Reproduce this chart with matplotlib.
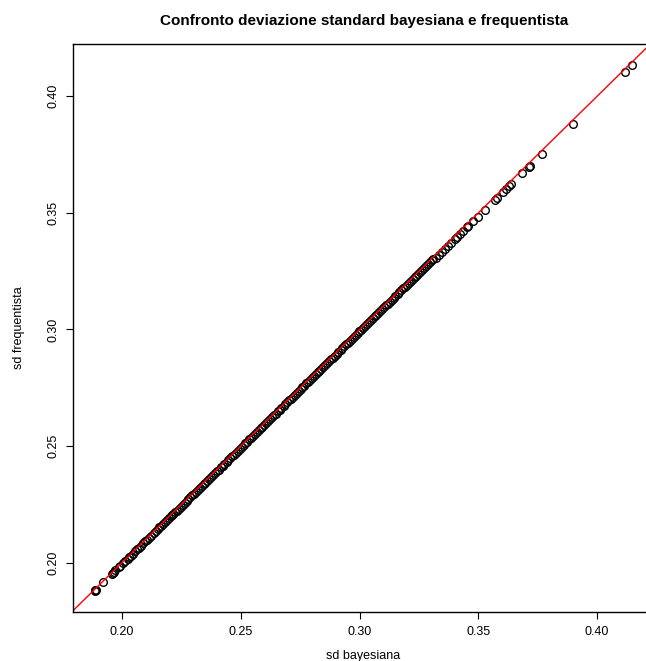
import matplotlib
matplotlib.use("Agg")
import matplotlib.pyplot as plt

plt.rcParams['font.family'] = ['Liberation Sans', 'DejaVu Sans']

# sparse points at the low end (sd bayesiana, sd frequentista)
low_bayes = [0.1884, 0.1887, 0.1890, 0.1921, 0.1958, 0.1962, 0.1966, 0.1972, 0.1985, 0.1993,
             0.2004, 0.2012, 0.2023, 0.2031, 0.2036, 0.2044, 0.2055, 0.2063, 0.2070, 0.2078,
             0.2090, 0.2098, 0.2104, 0.2112, 0.2121, 0.2133, 0.2141, 0.2150, 0.2157, 0.2163,
             0.2172, 0.2181, 0.2188, 0.2196, 0.2204, 0.2210]
low_freq = [0.1878, 0.1881, 0.1884, 0.1915, 0.1952, 0.1956, 0.1960, 0.1966, 0.1979, 0.1987,
            0.1998, 0.2006, 0.2017, 0.2025, 0.2030, 0.2038, 0.2049, 0.2057, 0.2064, 0.2072,
            0.2084, 0.2092, 0.2098, 0.2106, 0.2115, 0.2127, 0.2135, 0.2144, 0.2151, 0.2157,
            0.2166, 0.2175, 0.2182, 0.2190, 0.2198, 0.2204]

# dense body of the cloud
mid_bayes = [0.2216, 0.2224, 0.2231, 0.2239, 0.2248, 0.2255, 0.2263, 0.2272, 0.2279, 0.2287,
             0.2296, 0.2303, 0.2311, 0.2320, 0.2327, 0.2335, 0.2344, 0.2351, 0.2359, 0.2368,
             0.2375, 0.2383, 0.2392, 0.2399, 0.2407, 0.2416, 0.2423, 0.2431, 0.2440, 0.2447,
             0.2455, 0.2464, 0.2471, 0.2479, 0.2488, 0.2495, 0.2503, 0.2512, 0.2519, 0.2527,
             0.2536, 0.2543, 0.2551, 0.2560, 0.2567, 0.2575, 0.2584, 0.2591, 0.2599, 0.2608,
             0.2615, 0.2623, 0.2632, 0.2639, 0.2647, 0.2656, 0.2663, 0.2671, 0.2680, 0.2687,
             0.2695, 0.2704, 0.2711, 0.2719, 0.2728, 0.2735, 0.2743, 0.2752, 0.2759, 0.2767,
             0.2776, 0.2783, 0.2791, 0.2800, 0.2807, 0.2815, 0.2824, 0.2831, 0.2839, 0.2848,
             0.2855, 0.2863, 0.2872, 0.2879, 0.2887, 0.2896, 0.2903, 0.2911, 0.2920, 0.2927,
             0.2935, 0.2944, 0.2951, 0.2959, 0.2968, 0.2975, 0.2983, 0.2992, 0.2999, 0.3007,
             0.3016, 0.3023, 0.3031, 0.3040, 0.3047, 0.3055, 0.3064, 0.3071, 0.3079, 0.3088,
             0.3095, 0.3103, 0.3112, 0.3119, 0.3127, 0.3136, 0.3143, 0.3151, 0.3160, 0.3167,
             0.3175, 0.3184, 0.3191, 0.3199, 0.3208, 0.3215, 0.3223, 0.3232, 0.3239, 0.3247,
             0.3256, 0.3263, 0.3271, 0.3280, 0.3287, 0.3295, 0.3304, 0.3310]
mid_freq = [0.2208, 0.2216, 0.2223, 0.2231, 0.2240, 0.2247, 0.2255, 0.2264, 0.2271, 0.2279,
            0.2288, 0.2295, 0.2303, 0.2312, 0.2319, 0.2327, 0.2336, 0.2343, 0.2351, 0.2360,
            0.2367, 0.2375, 0.2384, 0.2391, 0.2399, 0.2408, 0.2415, 0.2423, 0.2432, 0.2439,
            0.2447, 0.2456, 0.2463, 0.2471, 0.2480, 0.2487, 0.2495, 0.2504, 0.2511, 0.2519,
            0.2528, 0.2535, 0.2543, 0.2552, 0.2559, 0.2567, 0.2576, 0.2583, 0.2591, 0.2600,
            0.2607, 0.2615, 0.2624, 0.2631, 0.2639, 0.2648, 0.2655, 0.2663, 0.2672, 0.2679,
            0.2687, 0.2696, 0.2703, 0.2711, 0.2720, 0.2727, 0.2735, 0.2744, 0.2751, 0.2759,
            0.2768, 0.2775, 0.2783, 0.2792, 0.2799, 0.2807, 0.2816, 0.2823, 0.2831, 0.2840,
            0.2847, 0.2855, 0.2864, 0.2871, 0.2879, 0.2888, 0.2895, 0.2903, 0.2912, 0.2919,
            0.2927, 0.2936, 0.2943, 0.2951, 0.2960, 0.2967, 0.2975, 0.2984, 0.2991, 0.2999,
            0.3008, 0.3015, 0.3023, 0.3032, 0.3039, 0.3047, 0.3056, 0.3063, 0.3071, 0.3080,
            0.3087, 0.3095, 0.3104, 0.3111, 0.3119, 0.3128, 0.3135, 0.3143, 0.3152, 0.3159,
            0.3167, 0.3176, 0.3183, 0.3191, 0.3200, 0.3207, 0.3215, 0.3224, 0.3231, 0.3239,
            0.3248, 0.3255, 0.3263, 0.3272, 0.3279, 0.3287, 0.3296, 0.3302]

# sparse points at the high end
high_bayes = [0.3322, 0.3335, 0.3346, 0.3360, 0.3373, 0.3384, 0.3402, 0.3411, 0.3423, 0.3437,
              0.3453, 0.3457, 0.3478, 0.3499, 0.3528, 0.3571, 0.3578, 0.3603, 0.3617, 0.3629,
              0.3638, 0.3684, 0.3713, 0.3718, 0.3767, 0.3898, 0.4118, 0.4149]
high_freq = [0.3307, 0.3320, 0.3331, 0.3345, 0.3358, 0.3369, 0.3387, 0.3396, 0.3408, 0.3422,
             0.3438, 0.3442, 0.3463, 0.3484, 0.3513, 0.3556, 0.3563, 0.3588, 0.3602, 0.3614,
             0.3623, 0.3669, 0.3698, 0.3703, 0.3752, 0.3883, 0.4103, 0.4134]

ticks = [0.20, 0.25, 0.30, 0.35, 0.40]
tick_labels = ["0.20", "0.25", "0.30", "0.35", "0.40"]

sd_bayes = low_bayes + mid_bayes + high_bayes
sd_freq = low_freq + mid_freq + high_freq

fig = plt.figure(figsize=(6.46, 6.61), dpi=100)
ax = fig.add_axes([73 / 646, 49 / 661, 581 / 646, 568 / 661])

ax.plot(sd_bayes, sd_freq, linestyle='none', marker='o', markersize=5.5,
        markerfacecolor='none', markeredgecolor='black', markeredgewidth=1.0)
ax.axline((0.2, 0.2), slope=1, color='red', linewidth=1)

# R style 4% padding around the data range
xr = max(sd_bayes) - min(sd_bayes)
yr = max(sd_freq) - min(sd_freq)
ax.set_xlim(min(sd_bayes) - 0.04 * xr, max(sd_bayes) + 0.04 * xr)
ax.set_ylim(min(sd_freq) - 0.04 * yr, max(sd_freq) + 0.04 * yr)

ax.set_xticks(ticks)
ax.set_xticklabels(tick_labels)
ax.set_yticks(ticks)
ax.set_yticklabels(tick_labels, rotation=90, va='center')
ax.tick_params(direction='out', length=5, width=0.8, labelsize=9, pad=5)
for sp in ax.spines.values():
    sp.set_linewidth(1.0)

ax.set_xlabel("sd bayesiana", fontsize=9, labelpad=9)
ax.set_ylabel("sd frequentista", fontsize=9, labelpad=16)
fig.text(0.5635, 1 - 21 / 661, "Confronto deviazione standard bayesiana e frequentista",
         ha='center', va='center', fontsize=11, fontweight='bold')

fig.savefig("out.png", dpi=100)
